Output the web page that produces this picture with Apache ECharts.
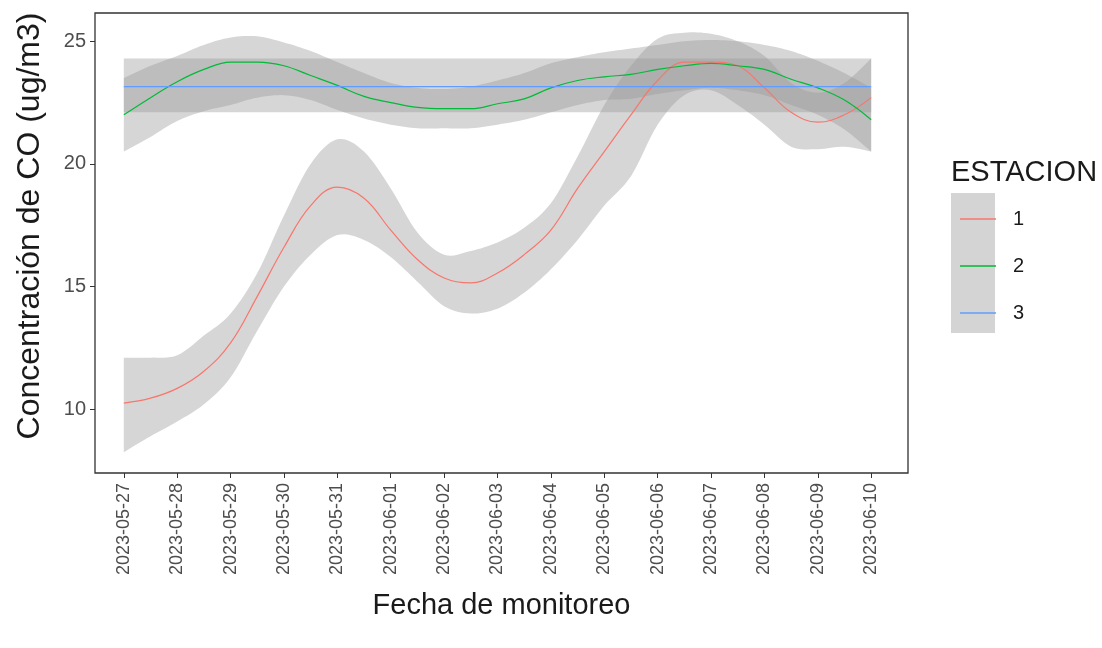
<!DOCTYPE html>
<html>
<head>
<meta charset="utf-8">
<script src="https://cdn.jsdelivr.net/npm/echarts@6/dist/echarts.min.js"></script>
<style>
html,body{margin:0;padding:0;background:#fff;}
#chart{width:1102px;height:648px;}
</style>
</head>
<body>
<div id="chart"></div>
<script>
// fechas del eje x (una por dia)
var fechas = ['2023-05-27','2023-05-28','2023-05-29','2023-05-30','2023-05-31','2023-06-01','2023-06-02',
  '2023-06-03','2023-06-04','2023-06-05','2023-06-06','2023-06-07','2023-06-08','2023-06-09','2023-06-10'];
var diasTick = [0,1,2,3,4,5,6,7,8,9,10,11,12,13,14];
var ticksY = [10,15,20,25];

// curvas suavizadas leidas cada medio dia
var dias = [0,0.5,1,1.5,2,2.5,3,3.5,4,4.5,5,5.5,6,6.5,7,7.5,8,8.5,9,9.5,10,10.5,11,11.5,12,12.5,13,13.5,14];

var est1 =   [10.25,10.45,10.85,11.55,12.7,14.6,16.6,18.3,19.05,18.6,17.3,16.1,15.35,15.15,15.55,16.3,17.3,19.0,20.5,22.0,23.4,24.15,24.15,24.0,23.1,22.1,21.7,22.0,22.7];
var est1Lo = [8.25,8.9,9.5,10.2,11.3,13.2,15.0,16.3,17.1,16.9,16.2,15.2,14.2,13.9,14.1,14.75,15.7,16.9,18.3,19.5,21.6,22.8,23.0,22.4,21.6,20.7,20.6,20.7,20.5];
var est1Hi = [12.1,12.1,12.2,13.0,13.9,15.55,17.9,20.0,21.0,20.5,19.0,17.2,16.3,16.45,16.8,17.4,18.4,20.3,22.4,24.0,25.1,25.35,25.3,25.0,24.4,23.3,22.9,23.3,24.3];

var est2 =   [22.0,22.7,23.35,23.85,24.15,24.15,24.0,23.6,23.2,22.75,22.5,22.3,22.25,22.25,22.45,22.65,23.1,23.4,23.55,23.65,23.85,24.0,24.1,24.0,23.85,23.45,23.1,22.6,21.8];
var est2Lo = [20.5,21.1,21.75,22.15,22.4,22.7,22.8,22.6,22.2,21.85,21.6,21.45,21.45,21.45,21.6,21.8,22.1,22.4,22.6,22.65,22.85,23.0,23.1,23.0,22.8,22.4,22.0,21.4,20.5];
var est2Hi = [23.5,24.0,24.4,24.85,25.15,25.2,24.95,24.6,24.15,23.7,23.3,23.1,23.05,23.15,23.4,23.7,24.1,24.35,24.55,24.7,24.85,25.0,25.05,25.0,24.85,24.6,24.2,23.7,23.1];

// estacion 3 es plana
var dias3 = [0,14];
var est3 =   [23.15,23.15];
var est3Lo = [22.1,22.1];
var est3Hi = [24.3,24.3];

var colores = ['#F8766D','#00BA38','#619CFF'];
var banda = 'rgba(153,153,153,0.4)';

function pares(xs,ys){
  var r=[];
  for(var i=0;i<xs.length;i++){ r.push([xs[i],ys[i]]); }
  return r;
}
function triples(xs,lo,hi){
  var r=[];
  for(var i=0;i<xs.length;i++){ r.push([xs[i],lo[i],hi[i]]); }
  return r;
}
// suaviza el borde en pixeles (catmull-rom) solo para dibujar
function suave(pts){
  if(pts.length<3) return pts;
  var out=[],n=pts.length;
  for(var i=0;i<n-1;i++){
    var p0=pts[Math.max(i-1,0)],p1=pts[i],p2=pts[i+1],p3=pts[Math.min(i+2,n-1)];
    for(var k=0;k<8;k++){
      var t=k/8,t2=t*t,t3=t2*t;
      var x=0.5*((2*p1[0])+(-p0[0]+p2[0])*t+(2*p0[0]-5*p1[0]+4*p2[0]-p3[0])*t2+(-p0[0]+3*p1[0]-3*p2[0]+p3[0])*t3);
      var y=0.5*((2*p1[1])+(-p0[1]+p2[1])*t+(2*p0[1]-5*p1[1]+4*p2[1]-p3[1])*t2+(-p0[1]+3*p1[1]-3*p2[1]+p3[1])*t3);
      out.push([x,y]);
    }
  }
  out.push(pts[n-1]);
  return out;
}
// banda de confianza: un poligono con el borde de arriba y el de abajo
function bandaSerie(id,xs,lo,hi){
  var datos=triples(xs,lo,hi);
  return {
    name:'banda'+id, type:'custom', data:datos, encode:{x:0,y:[1,2]}, silent:true, z:1, clip:true,
    renderItem:function(params,api){
      if(params.dataIndex!==0) return null;
      var arriba=[],abajo=[];
      for(var i=0;i<datos.length;i++){
        arriba.push(api.coord([datos[i][0],datos[i][2]]));
        abajo.push(api.coord([datos[i][0],datos[i][1]]));
      }
      var todos=suave(arriba).concat(suave(abajo).reverse());
      return {type:'polygon',shape:{points:todos},style:{fill:banda}};
    }
  };
}
function linea(nombre,xs,ys,color){
  return {
    name:nombre, type:'line', data:pares(xs,ys), smooth:0.4, symbol:'none',
    itemStyle:{color:color}, lineStyle:{color:color,width:1.2}, z:3
  };
}

var series=[];
series.push(bandaSerie(1,dias,est1Lo,est1Hi));
series.push(bandaSerie(2,dias,est2Lo,est2Hi));
series.push(bandaSerie(3,dias3,est3Lo,est3Hi));
series.push(linea('1',dias,est1,colores[0]));
series.push(linea('2',dias,est2,colores[1]));
series.push(linea('3',dias3,est3,colores[2]));

var chart = echarts.init(document.getElementById('chart'));
chart.setOption({
  animation:false,
  backgroundColor:'#fff',
  textStyle:{fontFamily:'Liberation Sans, Arial, sans-serif'},
  grid:{left:95,top:13,right:194,bottom:175,show:true,borderColor:'#333333',borderWidth:1.3,backgroundColor:'#fff'},
  title:{text:'ESTACION',left:946,top:153,textStyle:{fontSize:29,fontWeight:'normal',color:'#1a1a1a'}},
  legend:{
    data:['1','2','3'], orient:'vertical', left:955, top:201, icon:'rect',
    itemWidth:36, itemHeight:1.5, itemGap:21,
    textStyle:{fontSize:20,color:'#1a1a1a',lineHeight:26,padding:[0,0,0,12]}
  },
  graphic:[
    {type:'rect',left:951,top:193,shape:{width:44,height:140},style:{fill:'#D4D4D4'},z:-1},
    {type:'text',x:30,y:226,rotation:Math.PI/2,
      style:{text:'Concentración de CO (ug/m3)',fontSize:32,fill:'#1a1a1a',align:'center',verticalAlign:'middle',
        fontFamily:'Liberation Sans, Arial, sans-serif'}}
  ],
  xAxis:{
    type:'value', min:-0.54, max:14.69,
    name:'Fecha de monitoreo', nameLocation:'middle', nameGap:118,
    nameTextStyle:{fontSize:29,color:'#1a1a1a'},
    splitLine:{show:false}, axisLine:{show:false,onZero:false},
    axisTick:{show:true,length:5,lineStyle:{color:'#333'},customValues:diasTick},
    axisLabel:{rotate:90,fontSize:18,color:'#4d4d4d',margin:10,customValues:diasTick,
      formatter:function(v){return fechas[Math.round(v)];}}
  },
  yAxis:{
    type:'value', min:7.4, max:26.15,
    splitLine:{show:false}, axisLine:{show:false,onZero:false},
    axisTick:{show:true,length:5,lineStyle:{color:'#333'},customValues:ticksY},
    axisLabel:{fontSize:20,color:'#4d4d4d',margin:9,customValues:ticksY}
  },
  series:series
});
</script>
</body>
</html>
